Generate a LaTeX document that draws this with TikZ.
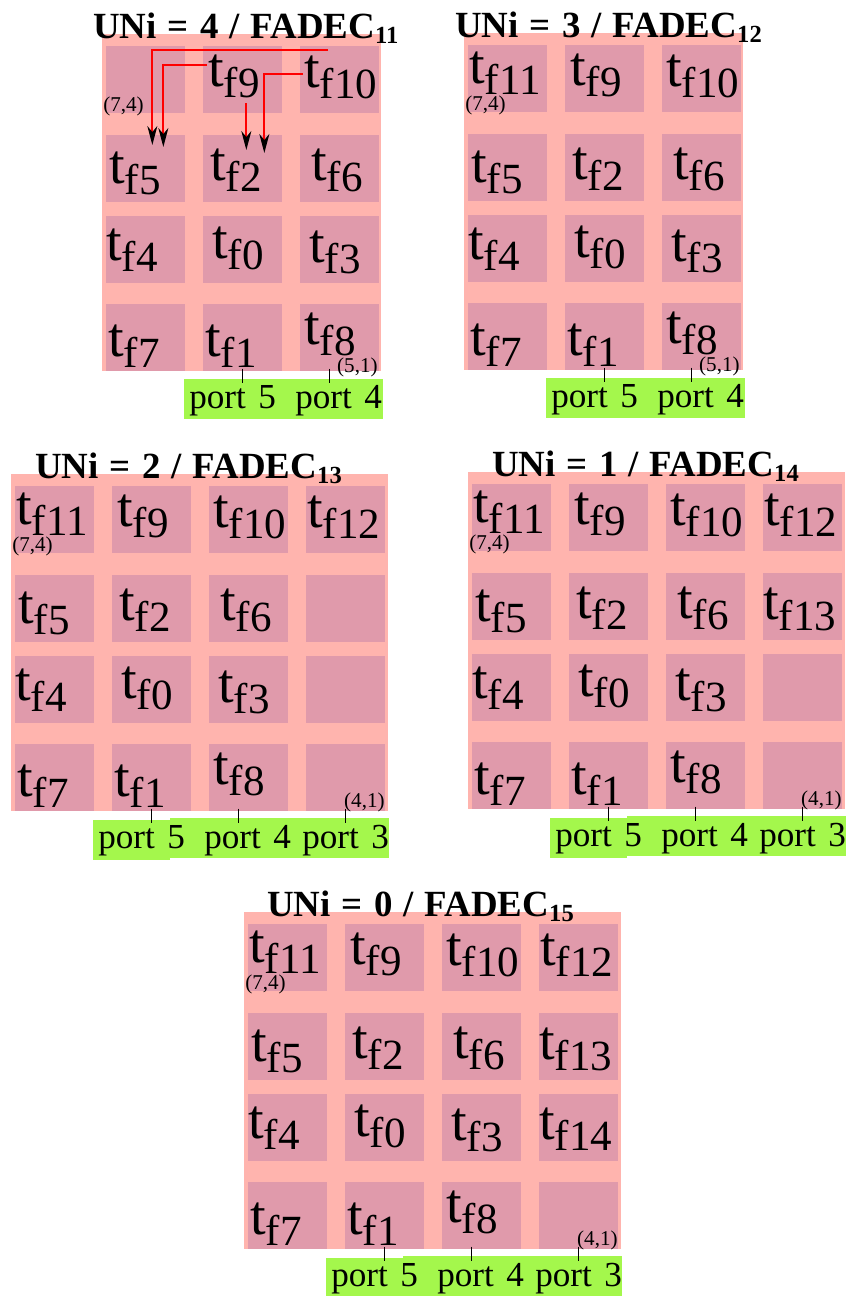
\documentclass[tikz,border=0pt]{standalone}
\usepackage{fontspec}
\setmainfont{Liberation Serif}
\usetikzlibrary{arrows.meta,calc}
\definecolor{bgpink}{HTML}{FFB4AE}
\definecolor{cellpink}{HTML}{E09AAB}
\definecolor{portgreen}{HTML}{A4F74C}
\newcommand{\tfsub}[1]{t\raisebox{-0.22cm}{\fontsize{24.5}{26}\selectfont f#1}}
\newcommand{\unihead}[2]{UNi\hspace{0.3em}=\hspace{0.3em}#1\hspace{0.3em}/\hspace{0.3em}FADEC\raisebox{-0.1cm}{\fontsize{14}{15}\selectfont #2}}

\begin{document}
\begin{tikzpicture}[x=0.02cm, y=-0.02cm, >={Stealth[black,length=0.38cm,width=0.2cm,inset=0.12cm]}]
\tikzset{
  panel/.style={fill=bgpink, inner sep=0pt, anchor=north west, minimum height=6.74cm},
  cell/.style={fill=cellpink, inner sep=0pt, anchor=north west, minimum width=1.58cm, minimum height=1.34cm},
  tlab/.style={anchor=base west, inner sep=0pt, font=\fontsize{32}{34}\selectfont},
  head/.style={anchor=base west, inner sep=0pt, font=\bfseries\fontsize{21}{23}\selectfont},
  pnum/.style={anchor=base west, inner sep=0pt, font=\fontsize{12}{13}\selectfont},
  portlab/.style={anchor=base west, inner sep=0pt, font=\fontsize{20}{22}\selectfont},
  gbox/.style={fill=portgreen, inner sep=0pt, anchor=north west, minimum height=0.8cm},
  portline/.style={line width=0.7pt},
  dep/.style={->, red, line width=1.1pt}
}
\useasboundingbox (0,0) rectangle (848,1296);
\foreach \u/\px/\py/\lc/\pw/\sb/\tx in {4/102/34/2/5.58cm/11/-9, 3/464/33/2/5.58cm/12/-9, 2/11/474/3/7.54cm/13/24, 1/468/472/3/7.54cm/14/24, 0/244/912/3/7.54cm/15/23}{
  \node[panel, minimum width=\pw] (uni\u) at (\px,\py) {};
  \foreach \c in {0,...,\lc}
    \foreach \r/\ry in {0/12,1/101,2/182,3/270}
      \node[cell] (u\u-\c-\r) at (\px+4+97*\c,\py+\ry) {};
  \node[head] (h\u) at (\px+\tx,\py+4) {\unihead{\u}{\sb}};
  % task labels
  \foreach \c/\r/\n/\dx/\dy in {1/0/9/5/40, 2/0/10/4/41, 0/1/5/3/48, 1/1/2/7/45, 2/1/6/11/45, 0/2/4/0/44, 1/2/0/9/42, 2/2/3/9/46, 0/3/7/2/52, 1/3/1/2/52, 2/3/8/4/40}
    \node[tlab] (t\u-\n) at ([shift={(\dx,\dy)}]u\u-\c-\r.north west) {\tfsub{\n}};
  \ifnum\u<4 \node[tlab] (t\u-11) at ([shift={(1,38)}]u\u-0-0.north west) {\tfsub{11}}; \fi
  \ifnum\u<3 \node[tlab] (t\u-12) at ([shift={(1,41)}]u\u-3-0.north west) {\tfsub{12}}; \fi
  \ifnum\u<2 \node[tlab] (t\u-13) at ([shift={(0,46)}]u\u-3-1.north west) {\tfsub{13}}; \fi
  \ifnum\u<1 \node[tlab] (t\u-14) at ([shift={(0,45)}]u\u-3-2.north west) {\tfsub{14}}; \fi
  \node[pnum] (k\u) at ([shift={(-3,-2)}]u\u-0-0.south west) {(7,4)};
  % ports
  \ifnum\lc=2
    \node[gbox, minimum width=3.98cm] (g\u-5) at ([shift={(-19,7)}]u\u-1-3.south west) {};
  \else
    \node[gbox, minimum width=1.54cm] (g\u-5) at ([shift={(-19,8)}]u\u-1-3.south west) {};
    \node[gbox, minimum width=4.38cm] (g\u-3) at ([shift={(58,6)}]u\u-1-3.south west) {};
  \fi
  \node[portlab] (p\u-5) at ([shift={(-14,37)}]u\u-1-3.south west) {port\hspace{0.1em} 5};
  \node[portlab] (p\u-4) at ([shift={(92,37)}]u\u-1-3.south west) {port\hspace{0.1em} 4};
  \draw[portline] ($(u\u-1-3.south)+(0,-3)$) -- ($(u\u-1-3.south |- p\u-5.north)+(0,-2)$);
  \draw[portline] ($(u\u-2-3.south)+(-10,-3)$) -- ($(u\u-2-3.south |- p\u-4.north)+(-10,-2)$);
  \ifnum\lc=2
    \node[pnum] (q\u) at ($(u\u-2-3.south)+(-3,1)$) {(5,1)};
  \else
    \node[portlab] (p\u-3) at ([shift={(190,37)}]u\u-1-3.south west) {port\hspace{0.1em} 3};
    \draw[portline] ($(u\u-3-3.south)+(0,-3)$) -- ($(u\u-3-3.south |- p\u-3.north)+(0,-2)$);
    \node[pnum] (q\u) at ($(u\u-3-3.south)+(-2,-4)$) {(4,1)};
  \fi
}
% dependencies in the first layout
\draw[dep] ([shift={(28,4)}]u4-2-0.north west) -| ([shift={(6.5,10)}]u4-0-1.north);
\draw[dep] ([shift={(4,19)}]u4-1-0.north west) -| ([shift={(17.5,12)}]u4-0-1.north);
\draw[dep] ([shift={(3.5,57)}]u4-1-0.north) -- ([shift={(3.5,15)}]u4-1-1.north);
\draw[dep] ([shift={(3,28)}]u4-2-0.north west) -| ([shift={(21.5,18)}]u4-1-1.north);
\end{tikzpicture}
\end{document}
